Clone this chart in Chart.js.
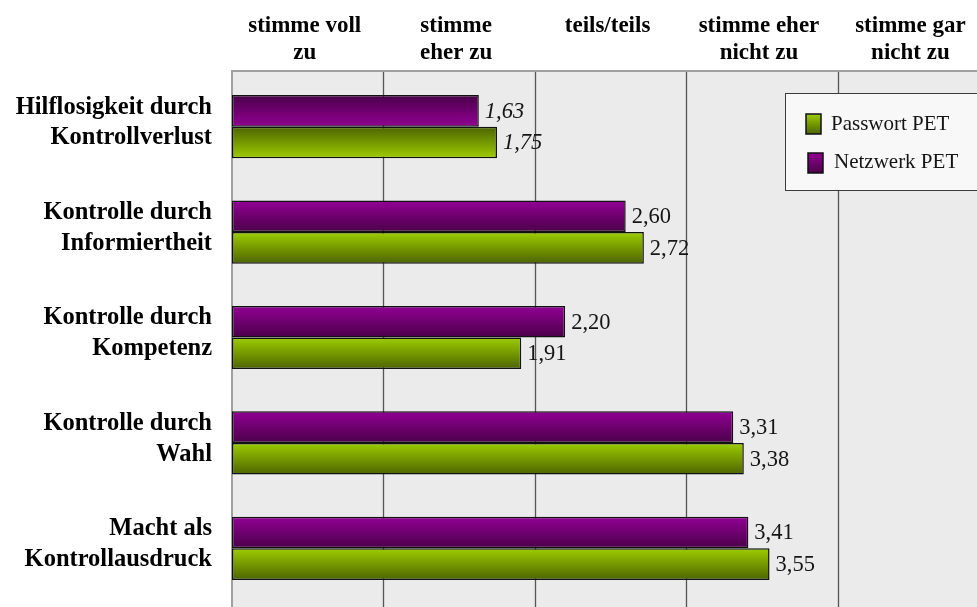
<!DOCTYPE html>
<html>
<head>
<meta charset="utf-8">
<script src="https://cdn.jsdelivr.net/npm/chart.js@4/dist/chart.umd.min.js"></script>
<style>
  html, body { margin: 0; padding: 0; background: #ffffff; }
  canvas { display: block; }
</style>
</head>
<body>
<canvas id="c" width="977" height="607"></canvas>
<script>
// ---- data ----
const categories = [
  ['Hilflosigkeit durch', 'Kontrollverlust'],
  ['Kontrolle durch', 'Informiertheit'],
  ['Kontrolle durch', 'Kompetenz'],
  ['Kontrolle durch', 'Wahl'],
  ['Macht als', 'Kontrollausdruck']
];
const netzwerkPET = [1.63, 2.60, 2.20, 3.31, 3.41];
const passwortPET = [1.75, 2.72, 1.91, 3.38, 3.55];
const scaleLabels = [
  ['stimme voll', 'zu'],
  ['stimme', 'eher zu'],
  ['teils/teils', ''],
  ['stimme eher', 'nicht zu'],
  ['stimme gar', 'nicht zu']
];
const scaleLabelPositions = [0.5, 1.5, 2.5, 3.5, 4.5];
const gridValues = [1, 2, 3, 4];
const invertedItem = [true, false, false, false, false];

// ---- styles ----
const PURPLE = { bright: '#920094', dark: '#4a0049' };
const GREEN = { bright: '#9dcd00', dark: '#4d6400' };
const SERIF = '"Liberation Serif", "Times New Roman", serif';
const CAT_PCT = 0.6;

function barFill(ctx, col) {
  const chart = ctx.chart;
  const ys = chart.scales.y;
  if (!ys || !chart.chartArea || ctx.dataIndex === undefined) return col.bright;
  const c = ys.getPixelForValue(ctx.dataIndex);
  const band = ys.height / chart.data.labels.length;
  const t = band * CAT_PCT / 2;
  const top = ctx.datasetIndex === 0 ? c - t : c;
  const g = chart.ctx.createLinearGradient(0, top, 0, top + t);
  if (invertedItem[ctx.dataIndex]) {
    g.addColorStop(0, col.dark);
    g.addColorStop(1, col.bright);
  } else {
    g.addColorStop(0, col.bright);
    g.addColorStop(1, col.dark);
  }
  return g;
}

const backdrop = {
  id: 'backdrop',
  beforeDraw(chart) {
    const { ctx, chartArea: a, scales: { x } } = chart;
    ctx.save();
    ctx.fillStyle = '#ffffff';
    ctx.fillRect(0, 0, chart.width, chart.height);
    const top = 70;
    ctx.fillStyle = '#ebebeb';
    ctx.fillRect(a.left, top, chart.width - a.left, chart.height - top);
    ctx.strokeStyle = '#555555';
    ctx.lineWidth = 1.3;
    gridValues.forEach(v => {
      const px = Math.round(x.getPixelForValue(v)) + 0.5;
      ctx.beginPath();
      ctx.moveTo(px, top);
      ctx.lineTo(px, chart.height);
      ctx.stroke();
    });
    ctx.strokeStyle = '#a0a0a0';
    ctx.lineWidth = 2;
    ctx.beginPath();
    ctx.moveTo(a.left, top + 1);
    ctx.lineTo(chart.width, top + 1);
    ctx.stroke();
    const lx = x.getPixelForValue(0);
    ctx.beginPath();
    ctx.moveTo(lx, top);
    ctx.lineTo(lx, chart.height);
    ctx.stroke();
    ctx.restore();
  }
};

const valueLabels = {
  id: 'valueLabels',
  afterDatasetsDraw(chart) {
    const ctx = chart.ctx;
    ctx.save();
    ctx.fillStyle = '#151515';
    ctx.textBaseline = 'middle';
    ctx.textAlign = 'left';
    chart.data.datasets.forEach((ds, di) => {
      const meta = chart.getDatasetMeta(di);
      meta.data.forEach((bar, i) => {
        const italic = invertedItem[i] ? 'italic ' : '';
        ctx.font = italic + '22.5px ' + SERIF;
        const txt = ds.data[i].toFixed(2).replace('.', ',');
        ctx.fillText(txt, bar.x + 6, bar.y + 1);
      });
    });
    ctx.restore();
  }
};

const boxLegend = {
  id: 'boxLegend',
  afterDraw(chart) {
    const ctx = chart.ctx;
    ctx.save();
    const bx = 785, by = 93, bw = 200, bh = 97;
    ctx.fillStyle = '#f8f8f8';
    ctx.fillRect(bx, by, bw, bh);
    ctx.strokeStyle = '#3a3a3a';
    ctx.lineWidth = 1;
    ctx.strokeRect(bx + 0.5, by + 0.5, bw, bh);
    const items = [
      { ds: chart.data.datasets[1], col: GREEN, sx: 806, sy: 114, tx: 831, ty: 124 },
      { ds: chart.data.datasets[0], col: PURPLE, sx: 808, sy: 153, tx: 834, ty: 162 }
    ];
    items.forEach(it => {
      const g = ctx.createLinearGradient(0, it.sy, 0, it.sy + 20);
      g.addColorStop(0, it.col.bright);
      g.addColorStop(1, it.col.dark);
      ctx.fillStyle = g;
      ctx.fillRect(it.sx, it.sy, 15, 20);
      ctx.strokeStyle = '#111111';
      ctx.lineWidth = 1.5;
      ctx.strokeRect(it.sx, it.sy, 15, 20);
      ctx.fillStyle = '#151515';
      ctx.font = '21px ' + SERIF;
      ctx.textBaseline = 'middle';
      ctx.textAlign = 'left';
      ctx.fillText(it.ds.label, it.tx, it.ty);
    });
    ctx.restore();
  }
};

new Chart(document.getElementById('c'), {
  type: 'bar',
  data: {
    labels: categories,
    datasets: [
      {
        label: 'Netzwerk PET',
        data: netzwerkPET,
        backgroundColor: ctx => barFill(ctx, PURPLE),
        borderColor: '#111111',
        borderWidth: 1.5,
        borderSkipped: false
      },
      {
        label: 'Passwort PET',
        data: passwortPET,
        backgroundColor: ctx => barFill(ctx, GREEN),
        borderColor: '#111111',
        borderWidth: 1.5,
        borderSkipped: false
      }
    ]
  },
  options: {
    indexAxis: 'y',
    responsive: false,
    animation: false,
    devicePixelRatio: 1,
    layout: { padding: { left: 0, right: 0, top: 0, bottom: 6 } },
    datasets: { bar: { categoryPercentage: CAT_PCT, barPercentage: 1.0 } },
    plugins: {
      legend: { display: false },
      tooltip: { enabled: false },
      title: { display: false }
    },
    scales: {
      x: {
        type: 'linear',
        position: 'top',
        min: 0,
        max: 4.92,
        grid: { display: false, drawTicks: false },
        border: { display: false },
        afterBuildTicks(scale) {
          scale.ticks = scaleLabelPositions.map(v => ({ value: v }));
        },
        afterFit(scale) {
          scale.height = 74;
          scale.paddingLeft = 0;
          scale.paddingRight = 0;
        },
        ticks: {
          autoSkip: false,
          maxRotation: 0,
          minRotation: 0,
          padding: 8,
          labelOffset: -3,
          color: '#000000',
          font: { family: SERIF, size: 23, weight: 'bold', lineHeight: 1.15 },
          callback: (v, i) => scaleLabels[i]
        }
      },
      y: {
        type: 'category',
        grid: { display: false, drawTicks: false },
        border: { display: false },
        afterFit(scale) {
          scale.width = 232;
          scale.paddingTop = 0;
          scale.paddingBottom = 0;
        },
        ticks: {
          autoSkip: false,
          padding: 20,
          labelOffset: -4,
          color: '#000000',
          font: { family: SERIF, size: 24.5, weight: 'bold', lineHeight: 1.26 }
        }
      }
    }
  },
  plugins: [backdrop, valueLabels, boxLegend]
});
</script>
</body>
</html>
